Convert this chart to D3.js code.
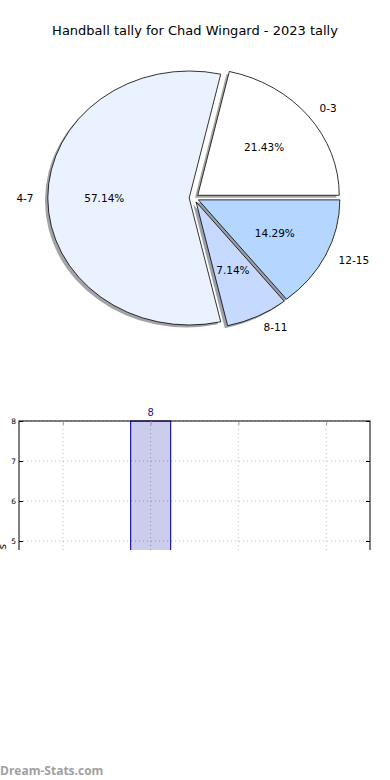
<!DOCTYPE html>
<html>
<head>
<meta charset="utf-8">
<script src="https://cdn.jsdelivr.net/npm/d3@7"></script>
<style>
  html, body { margin: 0; padding: 0; background: #fff; }
  svg { display: block; }
  text { font-family: "DejaVu Sans", sans-serif; }
</style>
</head>
<body>
<svg id="chart" width="390" height="780"></svg>
<script>
// ---- data ----
const titleText = "Handball tally for Chad Wingard - 2023 tally";
const categories = ["0-3", "4-7", "8-11", "12-15"];
const tallies = [3, 8, 1, 2];
const sliceColors = ["#ffffff", "#ebf2ff", "#c6d9ff", "#b4d6ff"];
const yTicks = [0, 1, 2, 3, 4, 5, 6, 7, 8];
const yLabelText = "Number of games";
const watermark = "Dream-Stats.com";

(function () {
const svg = d3.select("#chart");

// title
svg.append("text")
  .attr("x", 195).attr("y", 35)
  .attr("text-anchor", "middle")
  .style("font-size", "13px")
  .attr("fill", "#000")
  .text(titleText);

// ---- pie ----
const cx = 194, cy = 198, rx = 141.5, ry = 127, explode = 0.034;
const total = d3.sum(tallies);
const pie = d3.pie().sort(null).value(d => d.v)
  .startAngle(Math.PI / 2).endAngle(Math.PI / 2 - 2 * Math.PI);
const arcs = pie(categories.map((c, i) => ({ c, v: tallies[i], col: sliceColors[i] })));
const arc = d3.arc().innerRadius(0).outerRadius(1);

function shadowColor(c) {
  const r = d3.rgb(c);
  return d3.rgb(r.r * 0.3, r.g * 0.3, r.b * 0.3).toString();
}

const pieG = svg.append("g");
arcs.forEach(a => {
  const m = (a.startAngle + a.endAngle) / 2;
  const ox = cx + explode * rx * Math.sin(m) - 0.02 * rx;
  const oy = cy - explode * ry * Math.cos(m) + 0.02 * ry;
  pieG.append("path")
    .attr("d", arc(a))
    .attr("transform", `translate(${ox},${oy}) scale(${rx},${ry})`)
    .attr("fill", shadowColor(a.data.col))
    .attr("fill-opacity", 0.5);
});
arcs.forEach(a => {
  const m = (a.startAngle + a.endAngle) / 2;
  const ox = cx + explode * rx * Math.sin(m);
  const oy = cy - explode * ry * Math.cos(m);
  pieG.append("path")
    .attr("d", arc(a))
    .attr("transform", `translate(${ox},${oy}) scale(${rx},${ry})`)
    .attr("fill", a.data.col)
    .attr("stroke", "#000")
    .attr("stroke-width", 0.8)
    .attr("vector-effect", "non-scaling-stroke");
  const sx = Math.sin(m), sy = -Math.cos(m);
  pieG.append("text")
    .attr("x", ox + 1.1 * rx * sx)
    .attr("y", oy + 1.1 * ry * sy)
    .attr("dy", "0.35em")
    .attr("text-anchor", sx < 0 ? "end" : "start")
    .style("font-size", "10.5px")
    .text(a.data.c);
  pieG.append("text")
    .attr("x", ox + 0.6 * rx * sx)
    .attr("y", oy + 0.6 * ry * sy)
    .attr("dy", "0.35em")
    .attr("text-anchor", "middle")
    .style("font-size", "10.5px")
    .text((a.data.v / total * 100).toFixed(2) + "%");
});

// ---- bar chart (clipped by the figure edge) ----
const pLeft = 19, pRight = 370, pTop = 421, pBottom = 741, cutY = 550;
svg.append("defs").append("clipPath").attr("id", "cut")
  .append("rect").attr("x", 0).attr("y", 0).attr("width", 390).attr("height", cutY);

const barG = svg.append("g").attr("clip-path", "url(#cut)");
const x = d3.scalePoint().domain(categories).range([pLeft, pRight]).padding(0.5);
const y = d3.scaleLinear().domain([0, 8]).range([pBottom, pTop]);

barG.append("g").selectAll("line").data(categories).join("line")
  .attr("x1", d => x(d)).attr("x2", d => x(d))
  .attr("y1", pTop).attr("y2", pBottom)
  .attr("stroke", "#b8b8b8").attr("stroke-width", 1)
  .attr("stroke-dasharray", "1,3");
barG.append("g").selectAll("line").data(yTicks).join("line")
  .attr("x1", pLeft).attr("x2", pRight)
  .attr("y1", d => y(d)).attr("y2", d => y(d))
  .attr("stroke", "#b8b8b8").attr("stroke-width", 1)
  .attr("stroke-dasharray", "1,3");

const barW = 40;
barG.append("g").selectAll("rect").data(categories).join("rect")
  .attr("x", d => x(d) - barW / 2)
  .attr("width", barW)
  .attr("y", (d, i) => y(tallies[i]))
  .attr("height", (d, i) => y(0) - y(tallies[i]))
  .attr("fill", "#0000a0").attr("fill-opacity", 0.2)
  .attr("stroke", "#1a1aa8").attr("stroke-width", 1.2);

barG.append("g").selectAll("text").data(categories).join("text")
  .attr("x", d => x(d))
  .attr("y", (d, i) => y(tallies[i]) - 5)
  .attr("text-anchor", "middle")
  .style("font-size", "10px")
  .attr("fill", "#1a1a80")
  .text((d, i) => tallies[i]);

barG.append("rect")
  .attr("x", pLeft).attr("y", pTop)
  .attr("width", pRight - pLeft).attr("height", pBottom - pTop)
  .attr("fill", "none").attr("stroke", "#000").attr("stroke-width", 1);

const yAxis = d3.axisLeft(y).tickValues(yTicks).tickSize(-4).tickPadding(3)
  .tickFormat(d3.format("d"));
const yg = barG.append("g").attr("transform", `translate(${pLeft},0)`).call(yAxis);
yg.select(".domain").remove();
yg.selectAll("text").style("font-size", "7.5px").style("font-family", "DejaVu Sans");
const yr = d3.axisRight(y).tickValues(yTicks).tickSize(-4).tickFormat("");
const yrg = barG.append("g").attr("transform", `translate(${pRight},0)`).call(yr);
yrg.select(".domain").remove();
const xt = d3.axisTop(x).tickSize(-4).tickFormat("");
const xtg = barG.append("g").attr("transform", `translate(0,${pTop})`).call(xt);
xtg.select(".domain").remove();
xtg.selectAll("line").attr("stroke", "#999");

// y label: only its last letter lies inside the visible figure
barG.append("text")
  .attr("transform", `translate(6,544) rotate(-90)`)
  .attr("text-anchor", "end")
  .style("font-size", "10px")
  .text(yLabelText);

svg.append("text")
  .attr("x", 0).attr("y", 775)
  .style("font-family", "'Open Sans', sans-serif")
  .style("font-weight", "bold")
  .style("font-size", "12px")
  .attr("fill", "#a0a0a0")
  .text(watermark);
})();
</script>
</body>
</html>
